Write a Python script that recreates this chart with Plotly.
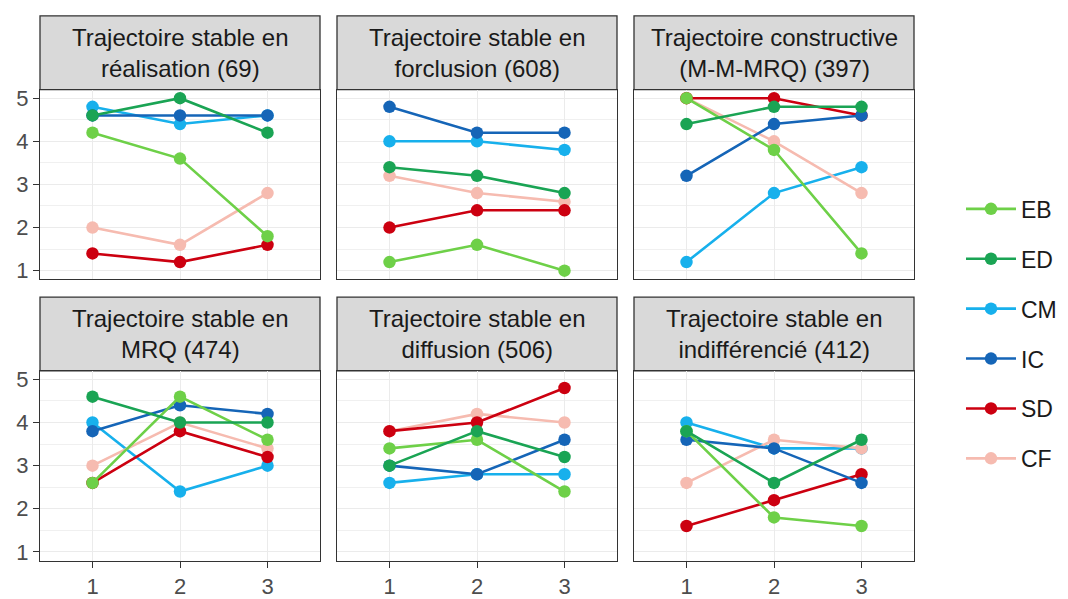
import plotly.graph_objects as go

W, H = 1068, 599

times = [1, 2, 3]
series = ["EB", "ED", "CM", "IC", "SD", "CF"]
colors = {"EB": "#6ED048", "ED": "#1AA454", "CM": "#17B0EC",
          "IC": "#1565B7", "SD": "#CC0010", "CF": "#F6BBB0"}
# drawing order (bottom -> top)
draw_order = ["CM", "CF", "SD", "IC", "EB", "ED"]

panel_titles = [
    "Trajectoire stable en<br>réalisation (69)",
    "Trajectoire stable en<br>forclusion (608)",
    "Trajectoire constructive<br>(M-M-MRQ) (397)",
    "Trajectoire stable en<br>MRQ (474)",
    "Trajectoire stable en<br>diffusion (506)",
    "Trajectoire stable en<br>indifférencié (412)",
]

realisation = {"EB": [4.2, 3.6, 1.8], "ED": [4.6, 5.0, 4.2], "CM": [4.8, 4.4, 4.6],
               "IC": [4.6, 4.6, 4.6], "SD": [1.4, 1.2, 1.6], "CF": [2.0, 1.6, 2.8]}
forclusion = {"EB": [1.2, 1.6, 1.0], "ED": [3.4, 3.2, 2.8], "CM": [4.0, 4.0, 3.8],
              "IC": [4.8, 4.2, 4.2], "SD": [2.0, 2.4, 2.4], "CF": [3.2, 2.8, 2.6]}
constructive = {"EB": [5.0, 3.8, 1.4], "ED": [4.4, 4.8, 4.8], "CM": [1.2, 2.8, 3.4],
                "IC": [3.2, 4.4, 4.6], "SD": [5.0, 5.0, 4.6], "CF": [5.0, 4.0, 2.8]}
mrq = {"EB": [2.6, 4.6, 3.6], "ED": [4.6, 4.0, 4.0], "CM": [4.0, 2.4, 3.0],
       "IC": [3.8, 4.4, 4.2], "SD": [2.6, 3.8, 3.2], "CF": [3.0, 4.0, 3.4]}
diffusion = {"EB": [3.4, 3.6, 2.4], "ED": [3.0, 3.8, 3.2], "CM": [2.6, 2.8, 2.8],
             "IC": [3.0, 2.8, 3.6], "SD": [3.8, 4.0, 4.8], "CF": [3.8, 4.2, 4.0]}
indifferencie = {"EB": [3.8, 1.8, 1.6], "ED": [3.8, 2.6, 3.6], "CM": [4.0, 3.4, 3.4],
                 "IC": [3.6, 3.4, 2.6], "SD": [1.6, 2.2, 2.8], "CF": [2.6, 3.6, 3.4]}

panels = [realisation, forclusion, constructive, mrq, diffusion, indifferencie]

y_ticks = [1, 2, 3, 4, 5]
y_minor = [1.5, 2.5, 3.5, 4.5]

# layout geometry (pixels)
col_px = [(40, 320), (337, 617), (634, 914)]
row_px = [(87, 280), (373, 566)]   # plot area top, bottom
strip_h = 75

fig = go.Figure()
layout = {}
shapes = []
annotations = []

for i, data in enumerate(panels):
    r, c = divmod(i, 3)
    idx = i + 1
    xa = "x" if idx == 1 else f"x{idx}"
    ya = "y" if idx == 1 else f"y{idx}"
    x0, x1 = col_px[c]
    top, bot = row_px[r]
    xd = [x0 / W, x1 / W]
    yd = [1 - bot / H, 1 - top / H]
    layout["xaxis" if idx == 1 else f"xaxis{idx}"] = dict(
        domain=xd, anchor=ya, range=[0.4, 3.6], tickvals=times,
        showticklabels=(r == 1), ticks="outside" if r == 1 else "",
        ticklen=6, tickwidth=1.3, tickcolor="#333333",
        tickfont=dict(size=22, color="#4D4D4D"),
        showgrid=True, gridcolor="#EBEBEB", gridwidth=1.4,
        showline=True, mirror=True, linecolor="#333333", linewidth=1.3,
        zeroline=False, fixedrange=True,
    )
    layout["yaxis" if idx == 1 else f"yaxis{idx}"] = dict(
        domain=yd, anchor=xa, range=[0.8, 5.2], tickvals=y_ticks,
        showticklabels=(c == 0), ticks="outside" if c == 0 else "",
        ticklen=6, tickwidth=1.3, tickcolor="#333333",
        tickfont=dict(size=22, color="#4D4D4D"),
        showgrid=True, gridcolor="#EBEBEB", gridwidth=1.4,
        minor=dict(tickvals=y_minor, showgrid=True, gridcolor="#F0F0F0", gridwidth=0.8),
        showline=True, mirror=True, linecolor="#333333", linewidth=1.3,
        zeroline=False, fixedrange=True,
    )
    # strip
    shapes.append(dict(type="rect", xref="paper", yref="paper",
                       x0=x0 / W, x1=x1 / W, y0=1 - top / H, y1=1 - (top - strip_h) / H,
                       fillcolor="#D9D9D9", line=dict(color="#333333", width=1.3), layer="below"))
    annotations.append(dict(xref="paper", yref="paper", x=(x0 + x1) / 2 / W,
                            y=1 - (top - strip_h / 2) / H, text=panel_titles[i],
                            showarrow=False, xanchor="center", yanchor="middle",
                            font=dict(size=24, color="#1A1A1A")))
    for s in draw_order:
        fig.add_trace(go.Scatter(
            x=times, y=data[s], mode="lines+markers", name=s,
            line=dict(color=colors[s], width=2.6),
            marker=dict(color=colors[s], size=12.5),
            xaxis=xa, yaxis=ya, legendgroup=s, showlegend=(i == 0),
            legendrank=series.index(s) + 1,
        ))

fig.update_layout(
    width=W, height=H, margin=dict(l=0, r=0, t=0, b=0),
    paper_bgcolor="white", plot_bgcolor="white",
    font=dict(family="Liberation Sans, Arial, sans-serif", color="#1A1A1A"),
    shapes=shapes, annotations=annotations,
    legend=dict(x=961 / W, y=1 - 335.5 / H, xanchor="left", yanchor="middle",
                font=dict(size=23, color="#1A1A1A"), tracegroupgap=17,
                bgcolor="rgba(0,0,0,0)", itemwidth=50),
)
fig.update_layout(**layout)

fig.write_html("out.html", config={"displayModeBar": False},
               post_script="document.body.style.margin='0';")
